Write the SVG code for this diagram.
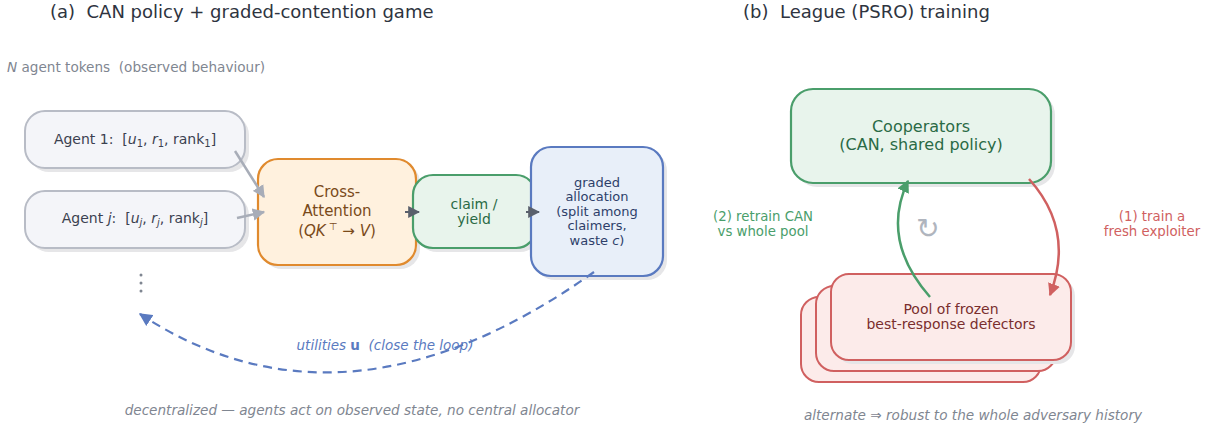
<svg xmlns="http://www.w3.org/2000/svg" width="1210" height="428" viewBox="0 0 1210 428">
<style>
text{font-family:"DejaVu Sans","Liberation Sans",sans-serif;white-space:pre;}
.title{font-size:18px;fill:#2e3440;}
.note{font-size:13.6px;fill:#7f8691;}
.it{font-style:italic;}
.shadow{fill:#e6e6e8;stroke:none;}
.agent{fill:#f4f5f9;stroke:#b8bcc6;stroke-width:2;}
.agentT{font-size:14px;fill:#3b4150;text-anchor:middle;}
.attn{fill:#fff1de;stroke:#e08a2e;stroke-width:2.2;}
.attnT{font-size:15px;fill:#7a4a1a;text-anchor:middle;}
.grn{fill:#e8f4ec;stroke:#4a9e6b;stroke-width:2.2;}
.grnT{fill:#2a6a45;text-anchor:middle;}
.blu{fill:#e8eff9;stroke:#5a7ac0;stroke-width:2.2;}
.bluT{font-size:13px;fill:#2e3f6a;text-anchor:middle;}
.red{fill:#fcebea;stroke:#d06060;stroke-width:2;}
.redT{font-size:14px;fill:#7a2e2e;text-anchor:middle;}
</style>
<defs>
<marker id="ahGray" viewBox="0 0 10 10" refX="9" refY="5" markerWidth="5" markerHeight="5" orient="auto"><path d="M0,0L10,5L0,10z" fill="#a8adb8"/></marker>
<marker id="ahDark" viewBox="0 0 10 10" refX="9" refY="5" markerWidth="6" markerHeight="6" orient="auto"><path d="M0,0L10,5L0,10z" fill="#5a606c"/></marker>
<marker id="ahBlue" viewBox="0 0 10 10" refX="9" refY="5" markerWidth="6" markerHeight="6" orient="auto"><path d="M0,0L10,5L0,10z" fill="#5a7ac0"/></marker>
<marker id="ahGreen" viewBox="0 0 10 10" refX="9" refY="5" markerWidth="5" markerHeight="5" orient="auto"><path d="M0,0L10,5L0,10z" fill="#4a9e6b"/></marker>
<marker id="ahRed" viewBox="0 0 10 10" refX="9" refY="5" markerWidth="5" markerHeight="5" orient="auto"><path d="M0,0L10,5L0,10z" fill="#d06060"/></marker>
</defs>

<text class="title" x="50" y="18">(a)  CAN policy + graded-contention game</text>
<text class="title" x="743" y="18">(b)  League (PSRO) training</text>
<text class="note" x="7" y="72"><tspan class="it">N</tspan> agent tokens  (observed behaviour)</text>

<g id="agent1">
<rect class="shadow" x="29" y="115" width="220" height="57" rx="20"/>
<rect class="agent" x="25" y="111" width="220" height="57" rx="20"/>
<text class="agentT" x="135" y="144">Agent 1:  [<tspan class="it">u</tspan><tspan font-size="10" dy="3">1</tspan><tspan dy="-3">, </tspan><tspan class="it">r</tspan><tspan font-size="10" dy="3">1</tspan><tspan dy="-3">, rank</tspan><tspan font-size="10" dy="3">1</tspan><tspan dy="-3">]</tspan></text>
</g>
<g id="agentj">
<rect class="shadow" x="29" y="195" width="220" height="57" rx="20"/>
<rect class="agent" x="25" y="191" width="220" height="57" rx="20"/>
<text class="agentT" x="135" y="223">Agent <tspan class="it">j</tspan>:  [<tspan class="it">u</tspan><tspan class="it" font-size="10" dy="3">j</tspan><tspan dy="-3">, </tspan><tspan class="it">r</tspan><tspan class="it" font-size="10" dy="3">j</tspan><tspan dy="-3">, rank</tspan><tspan class="it" font-size="10" dy="3">j</tspan><tspan dy="-3">]</tspan></text>
</g>
<g id="dots" fill="#7f8691">
<circle cx="141" cy="275" r="1.5"/><circle cx="141" cy="283" r="1.5"/><circle cx="141" cy="291" r="1.5"/>
</g>
<g id="attention">
<rect class="shadow" x="262" y="163" width="158" height="106" rx="20"/>
<rect class="attn" x="258" y="159" width="158" height="106" rx="20"/>
<text class="attnT" x="337" y="197">Cross-</text>
<text class="attnT" x="337" y="216">Attention</text>
<text class="attnT" x="337" y="236">(<tspan class="it">QK</tspan><tspan font-size="10" dy="-6"> ⊤</tspan><tspan dy="6"> → </tspan><tspan class="it">V</tspan>)</text>
</g>
<g id="claim">
<rect class="shadow" x="417" y="179" width="123" height="73" rx="20"/>
<rect class="grn" x="413" y="175" width="123" height="73" rx="20"/>
<text class="grnT" font-size="14" x="474" y="209">claim /</text>
<text class="grnT" font-size="14" x="474" y="224">yield</text>
</g>
<g id="alloc">
<rect class="shadow" x="535" y="151" width="132" height="129" rx="20"/>
<rect class="blu" x="531" y="147" width="132" height="129" rx="20"/>
<text class="bluT" x="597" y="187">graded</text>
<text class="bluT" x="597" y="201">allocation</text>
<text class="bluT" x="597" y="216">(split among</text>
<text class="bluT" x="597" y="230">claimers,</text>
<text class="bluT" x="597" y="245">waste <tspan class="it">c</tspan>)</text>
</g>

<g id="cooperators">
<rect class="shadow" x="795" y="93" width="260" height="94" rx="22"/>
<rect class="grn" x="791" y="89" width="260" height="94" rx="22"/>
<text class="grnT" font-size="16" x="921" y="132">Cooperators</text>
<text class="grnT" font-size="16" x="921" y="150">(CAN, shared policy)</text>
</g>
<g id="pool">
<rect class="red" x="801" y="297" width="240" height="85" rx="18"/>
<rect class="red" x="816" y="286" width="240" height="85" rx="18"/>
<rect class="shadow" x="835" y="278" width="240" height="86" rx="18"/>
<rect class="red" x="831" y="274" width="240" height="86" rx="18"/>
<text class="redT" x="951" y="314">Pool of frozen</text>
<text class="redT" x="951" y="329">best-response defectors</text>
</g>

<g id="connectors" fill="none">
<path d="M235,151 L264,197" stroke="#a8adb8" stroke-width="2.5" marker-end="url(#ahGray)"/>
<path d="M237,218 L264,212" stroke="#a8adb8" stroke-width="2.5" marker-end="url(#ahGray)"/>
<path d="M405,212 L419,212" stroke="#5a606c" stroke-width="2" marker-end="url(#ahDark)"/>
<path d="M526,212 L539,212" stroke="#5a606c" stroke-width="2" marker-end="url(#ahDark)"/>
<path d="M594,272 Q345,449 140,314" stroke="#5a7ac0" stroke-width="2.2" stroke-dasharray="9,6" marker-end="url(#ahBlue)"/>
<path d="M1029,179 Q1075,230 1050,295" stroke="#d06060" stroke-width="2.5" marker-end="url(#ahRed)"/>
<path d="M930,297 Q880,240 908,181" stroke="#4a9e6b" stroke-width="2.5" marker-end="url(#ahGreen)"/>
</g>

<text x="385" y="350" font-size="13.5" fill="#5a7ac0" text-anchor="middle" class="it">utilities <tspan font-weight="bold" font-style="normal">u</tspan>  (close the loop)</text>
<text x="352" y="415" class="note it" text-anchor="middle">decentralized — agents act on observed state, no central allocator</text>
<text x="928" y="238" font-size="28" fill="#b0b5be" text-anchor="middle">↻</text>
<text x="763" y="221" font-size="13.3" fill="#4a9e6b" text-anchor="middle">(2) retrain CAN</text>
<text x="763" y="236" font-size="13.3" fill="#4a9e6b" text-anchor="middle">vs whole pool</text>
<text x="1152" y="221" font-size="13.3" fill="#d06060" text-anchor="middle">(1) train a</text>
<text x="1152" y="236" font-size="13.3" fill="#d06060" text-anchor="middle">fresh exploiter</text>
<text x="973" y="420" class="note it" text-anchor="middle">alternate ⇒ robust to the whole adversary history</text>
</svg>
